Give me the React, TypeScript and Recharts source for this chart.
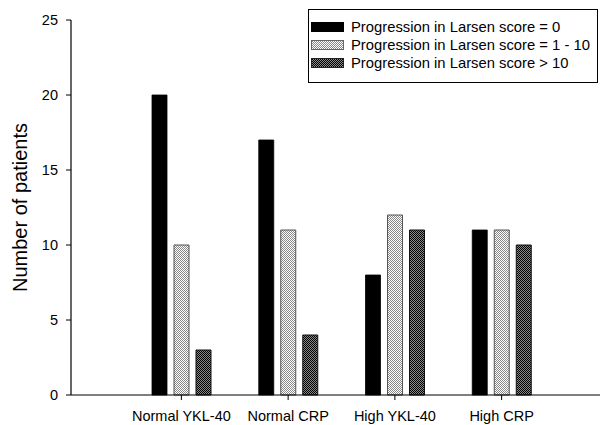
import React from "react";
import { BarChart, Bar, XAxis, YAxis } from "recharts";

const categories = ["Normal YKL-40", "Normal CRP", "High YKL-40", "High CRP"];
const score0 = [20, 17, 8, 11];
const score1to10 = [10, 11, 12, 11];
const scoreOver10 = [3, 4, 11, 10];
const yTicks = [0, 5, 10, 15, 20, 25];

const seriesNames = [
  "Progression in Larsen score = 0",
  "Progression in Larsen score = 1 - 10",
  "Progression in Larsen score > 10",
];

const data = categories.map((name, i) => ({
  name,
  s0: score0[i],
  s1: score1to10[i],
  s2: scoreOver10[i],
}));

const FONT = "'Liberation Sans', Arial, sans-serif";

const swatches = [
  { fill: "#000", stroke: "#000" },
  { fill: "url(#lightDots)", stroke: "#666" },
  { fill: "url(#darkDots)", stroke: "#222" },
];

// legend box drawn as an overlay so it doesn't eat plot space
function LegendBox() {
  return (
    <div
      style={{
        position: "absolute",
        left: 308,
        top: 9,
        border: "1px solid #000",
        width: 290,
        height: 74,
        boxSizing: "border-box",
        paddingTop: 8,
        fontFamily: FONT,
        fontSize: 14.8,
        color: "#000",
        background: "#fff",
      }}
    >
      {seriesNames.map((n, i) => (
        <div key={n} style={{ display: "flex", alignItems: "center", height: 18 }}>
          <svg width={33} height={10} style={{ marginLeft: 2, marginRight: 7 }}>
            <rect x={0.5} y={0.5} width={32} height={9} fill={swatches[i].fill} stroke={swatches[i].stroke} />
          </svg>
          <span>{n}</span>
        </div>
      ))}
    </div>
  );
}

export default function App() {
  return (
    <div style={{ position: "absolute", left: 0, top: 0, width: 606, height: 425, background: "#fff" }}>
      <svg width={0} height={0} style={{ position: "absolute" }}>
        <defs>
          <pattern id="lightDots" width={2} height={2} patternUnits="userSpaceOnUse">
            <rect width={2} height={2} fill="#fff" />
            <rect x={0} y={0} width={1} height={1} fill="#888" />
            <rect x={1} y={1} width={1} height={1} fill="#888" />
          </pattern>
          <pattern id="darkDots" width={2} height={2} patternUnits="userSpaceOnUse">
            <rect width={2} height={2} fill="#8a8a8a" />
            <rect x={0} y={0} width={1} height={1} fill="#000" />
            <rect x={1} y={1} width={1} height={1} fill="#000" />
          </pattern>
        </defs>
      </svg>
      <BarChart
        width={606}
        height={425}
        data={data}
        margin={{ top: 20, right: 6, bottom: 0, left: 0 }}
        barSize={15}
        barGap={7}
      >
        <XAxis
          dataKey="name"
          height={30}
          padding={{ left: 57, right: 45 }}
          tickSize={5}
          tickMargin={11}
          axisLine={{ stroke: "#000", strokeWidth: 1.2 }}
          tickLine={{ stroke: "#000" }}
          tick={{ fill: "#000", fontSize: 14.5, fontFamily: FONT }}
        />
        <YAxis
          width={71}
          domain={[0, 25]}
          ticks={yTicks}
          interval={0}
          tickSize={5}
          tickMargin={8}
          axisLine={{ stroke: "#000", strokeWidth: 1.2 }}
          tickLine={{ stroke: "#000" }}
          tick={{ fill: "#000", fontSize: 14.5, fontFamily: FONT }}
          label={{
            content: (props: any) => {
              const vb = props.viewBox || { y: 20, height: 375 };
              const cy = vb.y + vb.height / 2;
              return (
                <text
                  x={20}
                  y={cy}
                  transform={`rotate(-90, 20, ${cy})`}
                  textAnchor="middle"
                  dominantBaseline="central"
                  fontSize={20}
                  fontFamily={FONT}
                  fill="#000"
                >
                  Number of patients
                </text>
              );
            },
          }}
        />
        <Bar dataKey="s0" name={seriesNames[0]} fill="#000" stroke="#000" strokeWidth={0.8} isAnimationActive={false} />
        <Bar dataKey="s1" name={seriesNames[1]} fill="url(#lightDots)" stroke="#555" strokeWidth={1} isAnimationActive={false} />
        <Bar dataKey="s2" name={seriesNames[2]} fill="url(#darkDots)" stroke="#111" strokeWidth={1} isAnimationActive={false} />
      </BarChart>
      <LegendBox />
    </div>
  );
}
